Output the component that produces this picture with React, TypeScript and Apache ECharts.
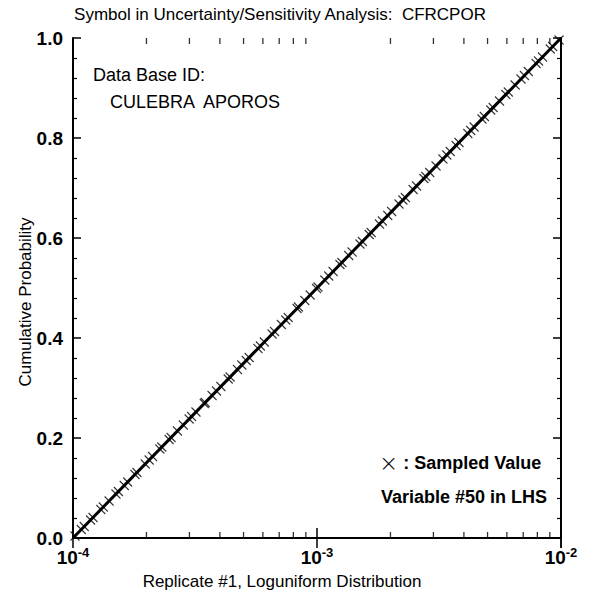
import React, { useEffect, useRef } from "react";
import * as echarts from "echarts";

// Sampled cumulative probabilities (one per LHS stratum)
const sampleProbs = [
  0.004, 0.017, 0.023, 0.036, 0.041, 0.057, 0.062, 0.074, 0.088, 0.093,
  0.105, 0.112, 0.127, 0.131, 0.148, 0.156, 0.163, 0.178, 0.182, 0.197,
  0.201, 0.214, 0.226, 0.238, 0.243, 0.252, 0.269, 0.271, 0.285, 0.294,
  0.303, 0.318, 0.322, 0.337, 0.346, 0.355, 0.361, 0.379, 0.384, 0.392,
  0.408, 0.413, 0.427, 0.436, 0.441, 0.459, 0.462, 0.475, 0.486, 0.499,
  0.502, 0.516, 0.524, 0.533, 0.547, 0.551, 0.565, 0.572, 0.588, 0.593,
  0.607, 0.611, 0.628, 0.634, 0.645, 0.653, 0.668, 0.676, 0.681, 0.697,
  0.704, 0.719, 0.723, 0.731, 0.744, 0.758, 0.766, 0.773, 0.785, 0.791,
  0.809, 0.815, 0.822, 0.838, 0.843, 0.856, 0.861, 0.874, 0.887, 0.892,
  0.906, 0.918, 0.925, 0.933, 0.949, 0.954, 0.962, 0.978, 0.983, 0.996,
];

const xMin = 1e-4;
const xMax = 1e-2;
const cdfLine = [
  [1e-4, 0],
  [1e-2, 1],
];
const minorXTicks = [
  2e-4, 3e-4, 4e-4, 5e-4, 6e-4, 7e-4, 8e-4, 9e-4,
  2e-3, 3e-3, 4e-3, 5e-3, 6e-3, 7e-3, 8e-3, 9e-3,
];

const titleText = "Symbol in Uncertainty/Sensitivity Analysis:  CFRCPOR";
const xName = "Replicate #1, Loguniform Distribution";
const yName = "Cumulative Probability";

const FONT = "'Liberation Sans', Arial, Helvetica, sans-serif";

export default function App() {
  const ref = useRef<HTMLDivElement>(null);
  useEffect(() => {
    if (!ref.current) return;
    const chart = echarts.init(ref.current, null, { renderer: "svg" });
    // inverse loguniform CDF to place each sample on the x (log) axis
    const lo = Math.log10(xMin);
    const hi = Math.log10(xMax);
    const samples = sampleProbs.map((p) => [Math.pow(10, lo + (hi - lo) * p), p]);

    const axisLine = { show: true, lineStyle: { color: "#000", width: 2 } };
    const xLabel = {
      fontFamily: FONT,
      margin: 8,
      formatter: (v: number) => `{b|10}{s|${Math.round(Math.log10(v))}}`,
      rich: {
        b: { fontSize: 19, fontWeight: "bold", fontFamily: FONT, color: "#000" },
        s: {
          fontSize: 13,
          fontWeight: "bold",
          fontFamily: FONT,
          color: "#000",
          padding: [0, 0, 9, 0],
        },
      },
    };

    chart.setOption({
      animation: false,
      backgroundColor: "#fff",
      grid: { left: 73, right: 32, top: 38, bottom: 62 },
      xAxis: [
        {
          type: "log",
          logBase: 10,
          min: xMin,
          max: xMax,
          position: "bottom",
          axisLine,
          axisTick: { show: true, inside: true, length: 10, lineStyle: { color: "#000", width: 1.5 } },
          splitLine: { show: false },
          axisLabel: xLabel,
        },
        {
          type: "log",
          logBase: 10,
          min: xMin,
          max: xMax,
          position: "top",
          axisLine,
          axisTick: { show: true, inside: true, length: 10, lineStyle: { color: "#000", width: 1.5 } },
          splitLine: { show: false },
          axisLabel: { show: false },
        },
      ],
      yAxis: [
        {
          type: "value",
          min: 0,
          max: 1,
          interval: 0.2,
          position: "left",
          axisLine,
          axisTick: { show: true, inside: true, length: 8, lineStyle: { color: "#000", width: 1.5 } },
          minorTick: { show: true, splitNumber: 5, length: 4, lineStyle: { color: "#000", width: 1.2 } },
          splitLine: { show: false },
          axisLabel: {
            margin: 10,
            fontSize: 19,
            fontWeight: "bold",
            fontFamily: FONT,
            color: "#000",
            formatter: (v: number) => v.toFixed(1),
          },
        },
        {
          type: "value",
          min: 0,
          max: 1,
          interval: 0.2,
          position: "right",
          axisLine,
          axisTick: { show: true, inside: true, length: 8, lineStyle: { color: "#000", width: 1.5 } },
          minorTick: { show: true, splitNumber: 5, length: 4, lineStyle: { color: "#000", width: 1.2 } },
          splitLine: { show: false },
          axisLabel: { show: false },
        },
      ],
      series: [
        {
          type: "line",
          xAxisIndex: 0,
          yAxisIndex: 0,
          data: cdfLine,
          showSymbol: false,
          symbol: "none",
          lineStyle: { color: "#000", width: 3 },
          z: 3,
        },
        {
          type: "scatter",
          xAxisIndex: 0,
          yAxisIndex: 0,
          data: samples,
          symbol: "path://M0,0L10,10M10,0L0,10",
          symbolSize: 9,
          itemStyle: { color: "transparent", borderColor: "#000", borderWidth: 1.1 },
          z: 4,
        },
        {
          // minor log ticks on the bottom frame
          type: "scatter",
          xAxisIndex: 0,
          yAxisIndex: 0,
          clip: false,
          silent: true,
          data: minorXTicks.map((v) => [v, 0]),
          symbol: "rect",
          symbolSize: [1.3, 6],
          symbolOffset: [0, -3],
          itemStyle: { color: "#000", borderWidth: 0 },
          z: 5,
        },
        {
          // minor log ticks on the top frame
          type: "scatter",
          xAxisIndex: 0,
          yAxisIndex: 0,
          clip: false,
          silent: true,
          data: minorXTicks.map((v) => [v, 1]),
          symbol: "rect",
          symbolSize: [1.3, 6],
          symbolOffset: [0, 3],
          itemStyle: { color: "#000", borderWidth: 0 },
          z: 5,
        },
      ],
      graphic: [
        {
          type: "text",
          x: 280,
          y: 14,
          style: {
            text: titleText,
            font: `17px ${FONT}`,
            fill: "#000",
            textAlign: "center",
            textVerticalAlign: "middle",
          },
        },
        {
          type: "text",
          x: 282,
          y: 581,
          style: {
            text: xName,
            font: `17px ${FONT}`,
            fill: "#000",
            textAlign: "center",
            textVerticalAlign: "middle",
          },
        },
        {
          type: "text",
          x: 25,
          y: 302,
          rotation: Math.PI / 2,
          style: {
            text: yName,
            font: `17px ${FONT}`,
            fill: "#000",
            textAlign: "center",
            textVerticalAlign: "middle",
          },
        },
        {
          type: "text",
          x: 93,
          y: 75,
          style: {
            text: "Data Base ID:",
            font: `18px ${FONT}`,
            fill: "#000",
            textAlign: "left",
            textVerticalAlign: "middle",
          },
        },
        {
          type: "text",
          x: 110,
          y: 102,
          style: {
            text: "CULEBRA  APOROS",
            font: `18px ${FONT}`,
            fill: "#000",
            textAlign: "left",
            textVerticalAlign: "middle",
          },
        },
        {
          type: "text",
          x: 379,
          y: 463,
          style: {
            text: "{x|×}{b| : Sampled Value}",
            fill: "#000",
            textAlign: "left",
            textVerticalAlign: "middle",
            rich: {
              x: { fontSize: 23, fontFamily: "'DejaVu Sans', sans-serif", fontWeight: 200, fill: "#000" },
              b: { fontSize: 18, fontFamily: FONT, fontWeight: "bold", fill: "#000" },
            },
          },
        },
        {
          type: "text",
          x: 381,
          y: 497,
          style: {
            text: "Variable #50 in LHS",
            font: `bold 18px ${FONT}`,
            fill: "#000",
            textAlign: "left",
            textVerticalAlign: "middle",
          },
        },
      ],
    });
    return () => chart.dispose();
  }, []);
  return (
    <div
      ref={ref}
      style={{ position: "fixed", left: 0, top: 0, width: 593, height: 600 }}
    />
  );
}
